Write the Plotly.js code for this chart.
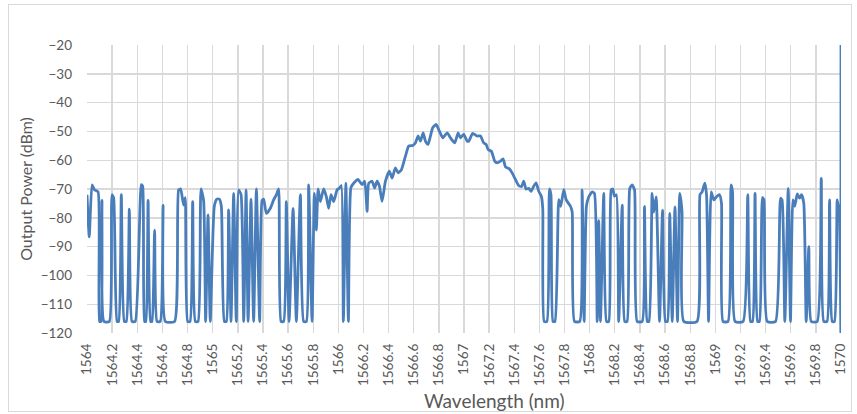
<!DOCTYPE html>
<html>
<head>
<meta charset="utf-8">
<script src="https://cdn.plot.ly/plotly-3.0.1.min.js"></script>
<style>
html,body{margin:0;padding:0;background:#fff;}
#wrap{position:relative;width:857px;height:414px;}
#chart{position:absolute;left:0;top:0;width:857px;height:414px;}
#frame{position:absolute;left:8px;top:4px;width:842px;height:406px;border:1px solid #d9d9d9;pointer-events:none;}
</style>
</head>
<body>
<div id="wrap"><div id="chart"></div><div id="frame"></div></div>
<script>
const wavelength = [
1564.000,1564.018,1564.040,1564.060,1564.088,1564.100,1564.111,1564.119,1564.135,1564.178,
1564.199,1564.212,1564.239,1564.252,1564.273,1564.297,1564.313,1564.337,1564.358,1564.384,
1564.432,1564.443,1564.458,1564.468,1564.486,1564.506,1564.517,1564.538,1564.557,1564.583,
1564.605,1564.623,1564.697,1564.729,1564.745,1564.769,1564.782,1564.801,1564.820,1564.841,
1564.862,1564.884,1564.907,1564.928,1564.944,1564.963,1564.981,1565.013,1565.033,1565.053,
1565.069,1565.093,1565.109,1565.127,1565.146,1565.167,1565.188,1565.207,1565.226,1565.247,
1565.266,1565.282,1565.305,1565.326,1565.348,1565.374,1565.393,1565.406,1565.427,1565.459,
1565.485,1565.507,1565.525,1565.544,1565.565,1565.586,1565.608,1565.640,1565.666,1565.698,
1565.724,1565.746,1565.764,1565.791,1565.809,1565.825,1565.839,1565.857,1565.883,1565.905,
1565.923,1565.942,1565.963,1565.990,1566.008,1566.024,1566.040,1566.060,1566.080,1566.100,
1566.122,1566.157,1566.189,1566.210,1566.229,1566.242,1566.269,1566.289,1566.308,1566.327,
1566.348,1566.375,1566.406,1566.428,1566.454,1566.476,1566.502,1566.534,1566.560,1566.592,
1566.613,1566.635,1566.653,1566.675,1566.693,1566.714,1566.733,1566.751,1566.778,1566.804,
1566.831,1566.866,1566.892,1566.926,1566.953,1566.971,1566.998,1567.025,1567.038,1567.069,
1567.104,1567.131,1567.157,1567.176,1567.192,1567.218,1567.244,1567.264,1567.290,1567.311,
1567.330,1567.361,1567.383,1567.409,1567.435,1567.457,1567.475,1567.494,1567.515,1567.534,
1567.555,1567.574,1567.595,1567.616,1567.627,1567.638,1567.660,1567.680,1567.692,1567.708,
1567.724,1567.754,1567.770,1567.794,1567.813,1567.847,1567.861,1567.879,1567.921,1567.940,
1567.956,1567.974,1567.993,1568.020,1568.038,1568.060,1568.072,1568.086,1568.112,1568.134,
1568.152,1568.171,1568.184,1568.197,1568.213,1568.231,1568.259,1568.279,1568.298,1568.319,
1568.338,1568.357,1568.378,1568.418,1568.436,1568.458,1568.472,1568.497,1568.510,1568.529,
1568.556,1568.580,1568.603,1568.619,1568.637,1568.657,1568.679,1568.699,1568.717,1568.735,
1568.749,1568.854,1568.878,1568.895,1568.916,1568.930,1568.946,1568.967,1568.988,1569.013,
1569.033,1569.049,1569.061,1569.101,1569.125,1569.137,1569.157,1569.221,1569.258,1569.280,
1569.296,1569.316,1569.336,1569.351,1569.375,1569.387,1569.413,1569.479,1569.519,1569.531,
1569.553,1569.580,1569.598,1569.617,1569.632,1569.652,1569.670,1569.686,1569.704,1569.723,
1569.744,1569.763,1569.811,1569.843,1569.863,1569.889,1569.909,1569.930,1569.948,1569.970,
1569.988,1569.999,1570.000
];
const outputPower = [
-72,-86.6,-68.6,-70.3,-71,-116,-116,-74,-116,-116,
-72,-73,-116,-116,-72,-116,-116,-77,-116,-116,
-68.5,-69,-116,-116,-74,-116,-116,-84.3,-116,-116,
-75.6,-116,-116,-70.3,-70,-75.6,-73,-116,-116,-74.4,
-116,-116,-70,-74,-116,-79,-116,-76,-73.5,-73.5,
-76,-116,-116,-77.3,-116,-71.5,-116,-70.3,-72,-116,
-70.3,-116,-73.5,-116,-70,-116,-74,-73.5,-78.5,-76.7,
-73.8,-72,-70,-116,-116,-74.4,-116,-76.7,-116,-72,
-116,-116,-68.6,-116,-71.5,-84.3,-70,-74.4,-70,-72.7,
-76.7,-72,-74.4,-70.3,-69.7,-68.8,-116,-68,-116,-69.5,
-68,-66.7,-68.5,-67.3,-77.8,-68,-67.3,-69.7,-67.3,-69,
-74.3,-67.3,-63.8,-66.2,-62.7,-64.4,-63.3,-58.6,-55.1,-54.9,
-54,-51.6,-53.4,-50.5,-53.4,-54.5,-51.6,-48.7,-47.6,-49.9,
-52.2,-50.5,-52.2,-54,-50.5,-52.2,-51,-53.4,-53.4,-50.7,
-51.6,-51.6,-54,-54.5,-56.3,-56.9,-60.3,-60.9,-60.3,-59.5,
-62.3,-63,-64.4,-66.7,-68.8,-69.2,-67.3,-70,-69.8,-70.8,
-69,-67.9,-70.8,-72.6,-77,-116,-116,-70,-72,-116,
-116,-73.7,-76,-70.2,-73.7,-76,-78,-116,-116,-70.3,
-116,-76,-72.7,-71,-71.5,-116,-81,-116,-71.5,-116,
-116,-70.3,-70,-72.5,-72,-116,-75.6,-116,-116,-69.8,
-68.6,-70.3,-116,-116,-76,-116,-116,-71.5,-78,-72.7,
-116,-77.4,-116,-116,-78.5,-116,-76.2,-116,-71.5,-78,
-116,-116,-72,-71,-68,-72,-116,-71,-73.8,-72.5,
-72,-75,-116,-116,-68.6,-71,-116,-116,-72,-116,
-116,-71.5,-116,-116,-73,-73.8,-116,-116,-73.2,-73.8,
-116,-69.8,-116,-73.8,-76,-71.7,-73.2,-72,-75,-116,
-90,-116,-116,-66.3,-116,-116,-73.8,-116,-116,-73.8,
-80.8,-120,-20
];
const xTickLabels = ['1564','1564.2','1564.4','1564.6','1564.8','1565','1565.2','1565.4','1565.6','1565.8',
'1566','1566.2','1566.4','1566.6','1566.8','1567','1567.2','1567.4','1567.6','1567.8',
'1568','1568.2','1568.4','1568.6','1568.8','1569','1569.2','1569.4','1569.6','1569.8','1570'];
const yTickValues = [-120,-110,-100,-90,-80,-70,-60,-50,-40,-30,-20];
const xTitle = 'Wavelength (nm)';
const yTitle = 'Output Power (dBm)';

const fontFam = 'Lato, "Open Sans", "Liberation Sans", sans-serif';
const trace = {
  x: wavelength, y: outputPower, type: 'scatter', mode: 'lines',
  line: {color: '#4a7ebb', width: 2.8, shape: 'spline', smoothing: 0.5},
  hoverinfo: 'x+y'
};
const layout = {
  width: 857, height: 414,
  margin: {l: 87, r: 16, t: 45, b: 81},
  paper_bgcolor: '#ffffff', plot_bgcolor: '#ffffff',
  showlegend: false,
  font: {family: fontFam, color: '#595959', size: 13},
  xaxis: {
    range: [1564, 1570],
    tickvals: xTickLabels.map(Number), ticktext: xTickLabels,
    tickangle: -90,
    showgrid: true, gridcolor: '#d9d9d9', gridwidth: 1.4,
    zeroline: false, showline: false, ticks: '',
    ticklabelstandoff: 7,
    tickfont: {family: fontFam, size: 13.5, color: '#595959'}
  },
  yaxis: {
    range: [-120, -20],
    tickvals: yTickValues,
    showgrid: true, gridcolor: '#d9d9d9', gridwidth: 1.4,
    zeroline: false, showline: false, ticks: '',
    ticklabelstandoff: 14,
    tickfont: {family: fontFam, size: 13.5, color: '#595959'},
    title: {text: yTitle, font: {family: fontFam, size: 16, color: '#595959'}, standoff: 4}
  },
  annotations: [{
    text: xTitle, xref: 'paper', yref: 'paper', x: 0.54, y: -0.236,
    xanchor: 'center', yanchor: 'middle', showarrow: false,
    font: {family: fontFam, size: 19, color: '#595959'}
  }]
};
Plotly.newPlot('chart', [trace], layout, {displayModeBar: false, staticPlot: true});
</script>
</body>
</html>
